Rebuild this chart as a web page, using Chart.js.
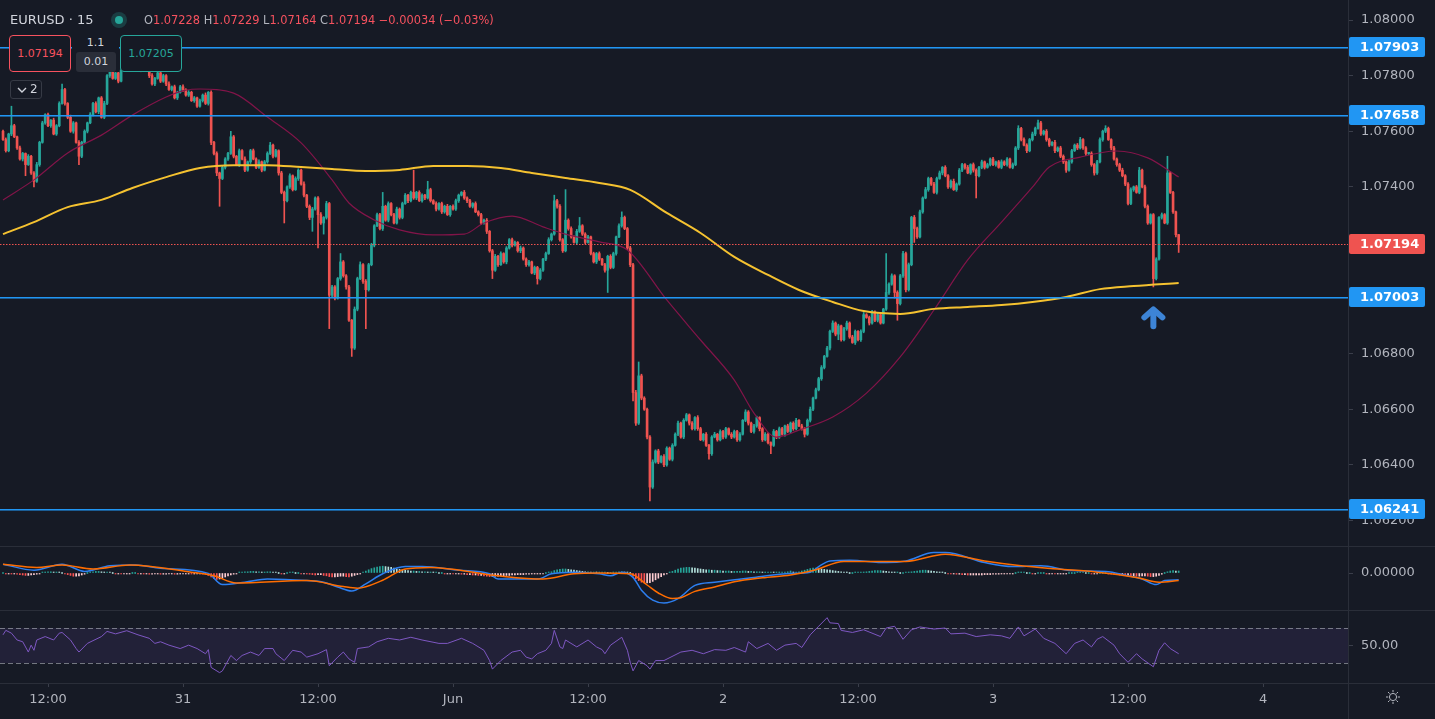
<!DOCTYPE html>
<html>
<head>
<meta charset="utf-8">
<title>EURUSD 15</title>
<script src="https://cdn.jsdelivr.net/npm/chart.js@4.4.1/dist/chart.umd.min.js"></script>
<style>
  html,body{margin:0;padding:0;background:#161a25;overflow:hidden}
  #wrap{position:relative;width:1435px;height:719px;background:#161a25;font-family:'DejaVu Sans',sans-serif}
  canvas{position:absolute;left:0;display:block}
  .sep{position:absolute;background:#2a2e39}
  .ov{position:absolute;box-sizing:border-box;white-space:nowrap}
  .lt{color:#b2b5be}
</style>
</head>
<body>
<div id="wrap">
  <canvas id="cPrice" width="1435" height="546" style="top:0"></canvas>
  <canvas id="cMacd" width="1435" height="63" style="top:547px"></canvas>
  <canvas id="cRsi" width="1435" height="108" style="top:611px"></canvas>
  <div class="sep" style="left:0;top:546px;width:1435px;height:1px"></div>
  <div class="sep" style="left:0;top:610px;width:1435px;height:1px"></div>
  <div class="sep" style="left:0;top:683px;width:1435px;height:1px"></div>
  <div class="sep" style="left:1348px;top:0;width:1px;height:719px"></div>

  <div class="ov" id="title" style="left:10px;top:11px;font-size:13px;color:#d1d4dc;line-height:18px"></div>
  <div class="ov" style="left:111px;top:12px;width:16px;height:16px;border-radius:50%;background:rgba(38,166,154,0.25)"></div>
  <div class="ov" style="left:115px;top:16px;width:8px;height:8px;border-radius:50%;background:#26a69a"></div>
  <div class="ov" id="ohlc" style="left:144px;top:11px;font-size:11.4px;line-height:18px;color:#f7525f"></div>
  <div class="ov" id="bidBox" style="left:9px;top:35px;width:62px;height:37px;border:1px solid #f7525f;border-radius:4px;background:#161a25;color:#f7525f;font-size:11px;line-height:35px;text-align:center"></div>
  <div class="ov" style="left:72px;top:35px;width:47px;height:37px;background:#161a25"></div>
  <div class="ov" id="qty" style="left:72px;top:35px;width:47px;text-align:center;font-size:11px;color:#d1d4dc;line-height:15px"></div>
  <div class="ov" id="spread" style="left:76px;top:52px;width:40px;height:20px;background:#2a2e39;border-radius:3px;text-align:center;font-size:11px;line-height:20px;color:#d1d4dc"></div>
  <div class="ov" id="askBox" style="left:120px;top:35px;width:62px;height:37px;border:1px solid #26a69a;border-radius:4px;background:#161a25;color:#26a69a;font-size:11px;line-height:35px;text-align:center"></div>
  <div class="ov" style="left:10px;top:80px;width:32px;height:19px;border:1px solid #363a45;border-radius:3px;background:#161a25;color:#d1d4dc;font-size:12px;line-height:17px">
    <svg width="10" height="8" style="position:absolute;left:6px;top:5px"><polyline points="1,2 5,6 9,2" fill="none" stroke="#d1d4dc" stroke-width="1.4"/></svg>
    <span style="position:absolute;left:19px;top:0">2</span>
  </div>
  <svg class="ov" width="16" height="16" style="left:1385px;top:689px">
    <circle cx="8" cy="8" r="3.6" fill="none" stroke="#b2b5be" stroke-width="1"/>
    <g stroke="#b2b5be" stroke-width="1">
      <line x1="8" y1="1" x2="8" y2="3.2"/><line x1="8" y1="12.8" x2="8" y2="15"/>
      <line x1="1" y1="8" x2="3.2" y2="8"/><line x1="12.8" y1="8" x2="15" y2="8"/>
      <line x1="3" y1="3" x2="4.6" y2="4.6"/><line x1="11.4" y1="11.4" x2="13" y2="13"/>
      <line x1="3" y1="13" x2="4.6" y2="11.4"/><line x1="11.4" y1="4.6" x2="13" y2="3"/>
    </g>
  </svg>
</div>
<script>
// ---------------- DATA ----------------
const symbolName = 'EURUSD';
const interval = '15';
const lastO = '1.07228', lastH = '1.07229', lastL = '1.07164', lastC = '1.07194';
const lastChange = '\u22120.00034 (\u22120.03%)';
const bidPrice = '1.07194', askPrice = '1.07205', orderQty = '1.1', spreadTxt = '0.01';

// 15-minute bars, index 0 = 30 May 08:00
const firstOpen = 1.0760;
const closes = [
1.0757,1.0753,1.0759,1.0762,1.0758,1.0754,1.0750,1.0752,1.0748,1.0751,
1.0745,1.0742,1.0748,1.0756,1.0763,1.0766,1.0762,1.0764,1.0759,1.0762,
1.0770,1.0775,1.0770,1.0765,1.0760,1.0763,1.0756,1.0751,1.0756,1.0760,
1.0763,1.0766,1.0770,1.0767,1.0772,1.0765,1.0770,1.0780,1.0782,1.0779,
1.0781,1.0778,1.0782,1.0784,1.0786,1.0783,1.0785,1.0787,1.0784,1.0782,
1.0785,1.0783,1.0780,1.0777,1.0779,1.0781,1.0778,1.0780,1.0777,1.0775,
1.0776,1.0772,1.0774,1.0776,1.0775,1.0773,1.0774,1.0771,1.0772,1.0769,
1.0771,1.0773,1.0770,1.0774,1.0756,1.0752,1.0745,1.0743,1.0747,1.0750,
1.0752,1.0758,1.0751,1.0748,1.0753,1.0750,1.0746,1.0749,1.0753,1.0750,
1.0747,1.0749,1.0746,1.0749,1.0752,1.0755,1.0751,1.0753,1.0745,1.0738,
1.0735,1.0740,1.0744,1.0739,1.0743,1.0746,1.0741,1.0737,1.0733,1.0729,
1.0732,1.0736,1.0730,1.0727,1.0729,1.0734,1.0701,1.0704,1.0700,1.0707,
1.0713,1.0708,1.0704,1.0692,1.0682,1.0696,1.0707,1.0712,1.0706,1.0703,
1.0712,1.0719,1.0726,1.0730,1.0725,1.0733,1.0728,1.0734,1.0730,1.0727,
1.0732,1.0729,1.0734,1.0737,1.0735,1.0738,1.0736,1.0738,1.0735,1.0737,
1.0736,1.0739,1.0735,1.0734,1.0732,1.0734,1.0731,1.0733,1.0730,1.0733,
1.0732,1.0735,1.0737,1.0738,1.0736,1.0735,1.0733,1.0734,1.0731,1.0730,
1.0727,1.0728,1.0724,1.0717,1.0710,1.0715,1.0712,1.0716,1.0713,1.0718,
1.0721,1.0719,1.0720,1.0717,1.0718,1.0714,1.0712,1.0713,1.0709,1.0711,
1.0707,1.0710,1.0714,1.0716,1.0721,1.0723,1.0735,1.0733,1.0721,1.0717,
1.0728,1.0725,1.0722,1.0720,1.0724,1.0726,1.0723,1.0720,1.0722,1.0716,
1.0713,1.0716,1.0714,1.0712,1.0710,1.0715,1.0711,1.0716,1.0722,1.0726,
1.0729,1.0725,1.0718,1.0712,1.0666,1.0655,1.0672,1.0664,1.0660,1.0650,
1.0632,1.0641,1.0645,1.0641,1.0643,1.0640,1.0646,1.0642,1.0647,1.0651,
1.0655,1.0650,1.0656,1.0658,1.0655,1.0653,1.0657,1.0653,1.0649,1.0651,
1.0647,1.0644,1.0650,1.0651,1.0649,1.0652,1.0650,1.0653,1.0651,1.0650,
1.0652,1.0649,1.0651,1.0656,1.0659,1.0655,1.0652,1.0654,1.0657,1.0653,
1.0649,1.0651,1.0648,1.0647,1.0652,1.0650,1.0653,1.0651,1.0654,1.0652,
1.0655,1.0653,1.0656,1.0654,1.0653,1.0651,1.0656,1.0660,1.0664,1.0667,
1.0671,1.0675,1.0679,1.0682,1.0688,1.0691,1.0687,1.0690,1.0685,1.0689,
1.0691,1.0686,1.0684,1.0688,1.0685,1.0688,1.0694,1.0693,1.0691,1.0695,
1.0692,1.0694,1.0691,1.0696,1.0702,1.0705,1.0708,1.0702,1.0698,1.0708,
1.0716,1.0703,1.0712,1.0729,1.0725,1.0722,1.0731,1.0736,1.0739,1.0743,
1.0741,1.0738,1.0743,1.0745,1.0747,1.0744,1.0740,1.0742,1.0739,1.0741,
1.0746,1.0748,1.0747,1.0745,1.0748,1.0746,1.0744,1.0747,1.0749,1.0747,
1.0748,1.0750,1.0748,1.0749,1.0747,1.0749,1.0748,1.0750,1.0747,1.0748,
1.0754,1.0761,1.0757,1.0755,1.0753,1.0757,1.0759,1.0761,1.0763,1.0759,
1.0760,1.0757,1.0755,1.0756,1.0753,1.0754,1.0751,1.0749,1.0746,1.0749,
1.0753,1.0755,1.0754,1.0757,1.0754,1.0752,1.0752,1.0748,1.0745,1.0749,
1.0757,1.0760,1.0761,1.0757,1.0754,1.0750,1.0748,1.0746,1.0744,1.0741,
1.0734,1.0739,1.0740,1.0738,1.0746,1.0740,1.0733,1.0727,1.0730,1.0707,
1.0714,1.0729,1.0730,1.0727,1.0745,1.0738,1.0731,1.07228,1.07194
];
// wick lengths beyond the body, in 0.00001
const wickUp = [
4,6,3,70,5,3,7,4,2,6, 3,5,8,4,6,3,5,2,7,4, 6,20,4,3,8,5,3,6,4,5, 3,7,4,6,3,5,8,4,6,3,
5,4,7,3,6,4,5,8,3,6, 4,5,3,7,4,6,3,5,4,8, 3,6,4,5,7,3,6,4,5,3, 6,4,8,3,5,4,6,3,7,5,
4,20,5,3,6,4,8,3,5,6, 4,7,3,5,6,10,4,5,3,6, 5,4,7,3,6,5,4,8,3,5, 6,4,5,7,3,8,4,6,5,4,
30,5,4,6,3,8,5,10,4,6, 5,7,4,6,5,50,4,6,3,5, 7,4,5,6,3,5,80,4,6,5, 3,30,5,4,6,3,5,4,7,3,
5,6,4,3,7,4,5,3,6,4, 5,4,6,3,5,7,4,6,3,5, 4,6,5,3,7,4,5,6,3,5, 4,6,3,5,7,4,20,5,6,4,
110,5,6,4,7,30,4,5,6,3, 5,4,6,3,5,4,6,5,3,7, 20,5,4,6,5,8,50,6,5,4, 5,8,4,6,3,7,5,4,6,5,
7,4,6,5,3,6,4,7,5,3, 6,4,5,7,3,6,4,5,3,6, 5,4,6,3,8,5,4,6,5,3, 4,6,5,3,7,4,6,5,3,6,
4,5,7,3,6,4,5,8,4,6, 5,7,4,6,5,8,4,6,3,5, 7,4,6,5,3,6,8,4,5,6, 4,6,5,3,140,5,7,4,6,5,
8,5,6,4,7,5,6,4,8,5, 4,6,5,7,3,6,4,5,8,4, 6,5,4,7,3,6,5,4,6,3, 5,4,6,3,5,7,4,5,3,6,
5,10,4,6,5,4,7,5,10,6, 4,6,5,3,7,4,6,5,3,6, 5,4,6,8,4,5,3,6,4,5, 6,4,10,5,3,6,4,5,7,4,
5,6,3,5,10,4,6,5,3,4, 5,3,6,4,60,5,4,3,1
];
const wickDn = [
3,5,4,6,3,5,4,7,40,3, 5,20,4,6,3,5,4,6,3,5, 4,3,6,5,4,7,3,30,5,4, 6,3,5,4,7,3,5,4,6,3,
4,6,3,5,4,7,3,5,4,6, 3,5,7,4,6,3,5,4,6,3, 5,4,6,3,7,4,5,3,6,4, 3,5,4,6,8,5,10,100,4,6,
5,3,6,4,7,3,5,4,6,3, 5,4,6,3,5,4,6,3,8,5, 80,4,6,5,3,7,4,6,5,8, 50,4,120,5,40,6,120,5,7,4,
6,5,8,4,30,5,6,4,7,140, 5,4,6,3,5,7,4,6,5,3, 4,6,5,3,7,4,5,6,3,5, 6,4,5,3,7,4,6,5,3,6,
4,5,6,3,5,7,4,6,3,5, 6,4,8,5,30,4,6,3,5,7, 4,6,3,5,7,4,6,5,3,6, 20,5,4,6,3,5,4,7,5,6,
4,6,5,3,7,4,5,6,3,5, 4,6,5,3,7,80,5,4,6,3, 5,4,6,7,30,8,5,6,4,7, 50,5,4,6,3,7,5,4,6,3,
5,4,6,3,7,4,5,6,3,5, 4,20,6,3,5,4,7,5,3,6, 4,6,5,3,5,7,4,6,5,8, 6,4,5,30,4,6,5,3,7,4,
5,6,4,3,5,10,4,6,5,3, 4,6,5,3,7,4,6,20,5,4, 6,5,3,7,4,6,5,3,7,4, 5,6,4,3,5,7,4,20,60,5,
6,8,5,4,50,6,4,5,3,6, 5,4,6,3,7,4,6,5,3,6, 4,5,6,3,5,7,80,4,5,6, 3,5,4,6,3,5,4,6,3,5,
4,6,5,3,7,4,5,6,3,5, 4,6,5,3,7,4,5,6,8,4, 5,3,6,4,5,7,4,6,8,5, 4,6,5,3,7,4,6,5,4,6,
5,4,6,3,5,4,6,5,4,30, 5,4,6,3,5,4,6,8,30
];

// EMA 200 (yellow) and MA (maroon), sampled at bar indices
const emaBars = [0,11,23,35,46,58,70,82,94,106,117,129,141,153,165,177,188,200,212,223,236,248,260,272,283,295,306,319,331,343,355,366,378,390,402,418];
const emaVals = [1.07230,1.07273,1.07327,1.07353,1.07396,1.07435,1.07468,1.07478,1.07478,1.07471,1.07464,1.07457,1.07461,1.07475,1.07475,1.07468,1.07450,1.07432,1.07414,1.07389,1.07306,1.07234,1.07148,1.07083,1.07029,1.06986,1.06953,1.06943,1.06961,1.06968,1.06975,1.06986,1.07004,1.07032,1.07043,1.07054];
const maBars = [0,11,23,35,46,58,65,70,82,94,106,117,123,132,141,153,164,171,181,192,200,212,222,236,248,260,267,275,283,295,307,319,331,343,355,366,372,383,396,407,418];
const maVals = [1.07353,1.07425,1.07522,1.07586,1.07658,1.07723,1.07748,1.07752,1.07737,1.07651,1.07558,1.07425,1.07342,1.07281,1.07245,1.07227,1.07230,1.07270,1.07295,1.07256,1.07230,1.07202,1.07173,1.06993,1.06849,1.06705,1.06586,1.06500,1.06525,1.06572,1.06658,1.06788,1.06957,1.07137,1.07273,1.07399,1.07471,1.07507,1.07529,1.07504,1.07435];

// MACD
const macdBars = [0,11,21,29,38,47,56,73,78,86,94,108,114,119,124,129,135,143,149,162,173,176,190,195,203,212,216,220,224,227,231,235,240,246,253,267,280,287,290,294,301,314,321,331,335,349,359,369,380,392,400,405,410,413,418];
const macdVals = [0.00022,0.00007,0.00022,0.00004,0.00018,0.0002,0.00012,-0.00001,-0.00029,-0.00023,-0.00015,-0.00019,-0.00023,-0.00035,-0.00045,-0.00027,-0.00002,0.00016,0.00016,0.00007,-0.00002,-0.00015,-0.00015,-0.00002,0.00002,-0.00002,-0.00007,0.00002,-0.00011,-0.00043,-0.00068,-0.00075,-0.00064,-0.00031,-0.00023,-0.00011,-0.00001,0.00002,0.00016,0.0003,0.00032,0.00026,0.0003,0.00051,0.00051,0.00026,0.00016,0.00018,0.00006,0.00004,-0.00007,-0.00015,-0.00029,-0.00019,-0.00017];
const signalBars = [0,12,21,32,45,67,75,83,108,121,126,135,143,152,176,192,203,212,223,229,233,238,241,246,253,260,270,280,288,299,321,335,349,362,375,389,403,411,418];
const signalVals = [0.00022,0.00014,0.0002,0.0001,0.0002,0.00002,-0.00007,-0.00025,-0.00019,-0.00034,-0.00038,-0.00018,0.0001,0.00014,-0.00007,-0.00015,-0.00002,0,-0.00002,-0.0003,-0.0005,-0.00064,-0.00062,-0.00046,-0.00035,-0.00022,-0.00012,-0.00005,0.00006,0.00029,0.00029,0.00047,0.0003,0.00018,0.0001,0.00002,-0.00011,-0.00023,-0.00019];
// histogram per bar, in 0.00001
const histUnits = [
0,-1,-1,-2,-2, -3,-4,-5,-6,-6,-5,-4,-3, -1,1,2,3,3,2,2,1,0, -2,-4,-6,-8,-8,-7,-5,-3,
0,2,3,4,4,3,2,2,1, 0,-1,-1,-2,-2,-1,-1,0,0,-1,-1,-2,-2,-3,-3,-2,-2,-3,
-3,-3,-2,-2,-3,-3,-2,-2,-1,-1,-2,-2,-1,-1,-2,-3, -6,-10,-14,-16,-15,-13,-10,-7,-5,-3,-1,
1,2,3,3,4,4,3,3,2,2,3,3,2,1,0,-1,-1,0,1,1,0,0,-1,-1,-2,
-3,-4,-5,-4,-4,-6,-7,-9,-10,-10,-9,-8,-8,-9,-10,-8,-6,-4,
-1,2,5,8,11,13,15,16,17,16,15,14,12,10,9,8,7,6,
5,5,4,4,3,3,2,2,1,1,0,0,-1,-1,-1,-2,-2,-2,
-3,-3,-4,-4,-5,-5,-6,-6,-7,-8,-9,-9,-8,-8,
-7,-7,-6,-6,-5,-5,-4,-4,-4,-3,-3,-2,-2,-2,-1,-1,0,1,3,
6,8,9,10,10,9,8,7,6,5,4,3,3,2,2,1,1,
1,1,0,0,1,2,3,3,2,1,0,
-8,-14,-19,-23,-25,-25,-24,-21,-17,-13,-9,-5,-2,1,
4,7,10,12,13,14,14,13,12,11,10,9,8,8,7,7,6,6,5,5,5,4,4,
4,4,5,5,4,4,3,3,3,2,2,2,2,1,1,1,1,2,3,5,
1,2,3,5,7,9,11,12,12,11,10,9,8,7,
6,5,4,3,2,1,0,0,1,1,2,2,3,4,5,6,6,6,5,4,3,2,1,1,0,0,1,
2,3,4,5,6,7,7,6,5,4,3,2,1,0,
-1,-2,-2,-3,-3,-4,-4,-5,-5,-5,-5,-5,-5,-4,-4,-4,-3,-3,-3,-2,-2,-2,-1,-1,0,1,1,1,0,0,-1,-1,0,0,
0,-1,-1,-1,-2,-2,-2,-1,-1,0,0,0,1,1,1,0,0,-1,-1,-1,0,0,0,
-1,-2,-3,-4,-5,-5,-6,-6,-7,-7,-8,-8,-7,-7,-8,-9,-9,-8,-6,
-3,0,3,5,6,5,5
];

// RSI samples
const rsiBars = [0,1,3,5,7,9,10,11,12,15, 18,20,21,24,26,27,30,35,37,40, 44,48,52,54,56,59,63,66,69,72,
73,74,77,78,81,83,85,88,91,93, 96,97,100,103,106,108,112,115,116,119, 121,123,125,126,130,133,137,141,145,149,
155,158,163,167,171,173,174,177,181,184, 186,188,190,193,195,196,198,199,200,204, 208,211,213,214,216,220,222,223,224,226,
229,230,232,235,241,245,249,253,257,260, 264,265,268,272,275,278,282,284,287,290, 293,294,297,298,302,306,312,314,317,320,
323,326,331,335,337,342,346,351,355,358, 361,363,367,370,374,378,381,384,387,389, 391,395,397,400,403,405,409,411,413,415,418];
const rsiVals = [62.2,67.3,64.1,56.3,54.3,42.5,50.4,44.5,56.3,60.2, 56.3,64.1,64.9,56.3,46.5,42.5,52.4,60.2,66.1,63.3, 66.9,62.2,58.2,52.4,54.3,50.4,46.5,50.4,46.5,40.6,
45.3,24.9,19.0,21.0,38.6,32.8,38.6,42.5,38.6,46.5, 46.5,40.6,32.8,44.5,42.5,36.7,40.6,45.3,26.9,36.7, 42.5,34.7,30.8,46.5,48.4,54.3,58.2,56.3,59.4,56.3,
52.4,52.4,58.2,52.4,44.5,32.8,23.0,32.8,42.5,44.5, 36.7,34.7,40.6,44.5,52.4,67.3,48.4,46.5,56.3,48.4, 56.3,48.4,45.3,40.6,50.4,59.4,44.5,30.8,21.0,32.8,
26.9,23.0,32.8,32.8,42.5,44.5,40.6,45.3,44.5,47.7, 42.5,54.3,46.5,52.4,44.5,50.4,52.4,47.7,62.2,72.0, 81.8,75.9,75.1,67.3,64.9,68.0,60.2,70.0,72.0,57.1,
68.0,71.2,68.8,70.0,63.3,64.1,60.2,62.2,61.0,58.2, 71.2,61.0,68.8,58.2,52.4,40.6,52.4,56.3,48.4,57.1, 60.2,50.4,40.6,30.8,40.6,34.7,25.7,44.5,53.1,46.5,40.6];
const rsiUpper = 70, rsiLower = 30;

// horizontal levels / current price / axis ticks
const levels = [1.07903, 1.07658, 1.07003, 1.06241];
const lastPrice = 1.07194;
const priceTicks = [1.062,1.064,1.066,1.068,1.070,1.072,1.074,1.076,1.078,1.080];
const timeTickBars = [16,64,112,160,208,256,304,352,400,448];
const timeTickLabels = ['12:00','31','12:00','Jun','12:00','2','12:00','3','12:00','4'];
const arrowBar = 409, arrowPrice = 1.0697;

// ---------------- STYLE ----------------
const FONT = 'DejaVu Sans';
const UP = '#26a69a', DOWN = '#ef5350', LEVEL = '#2196f3', AXIS_TXT = '#b2b5be';
const X_MIN = -1.07, X_MAX = 478.2;
const P_MIN = 1.061080, P_MAX = 1.080721;
const M_MIN = -0.000925, M_MAX = 0.00065;
const R_MIN = 7.14, R_MAX = 89.43;

// legend text
document.getElementById('title').textContent = symbolName + ' \u00b7 ' + interval;
document.getElementById('ohlc').innerHTML =
  '<span class="lt">O</span>' + lastO + ' <span class="lt">H</span>' + lastH +
  ' <span class="lt">L</span>' + lastL + ' <span class="lt">C</span>' + lastC + ' ' + lastChange;
document.getElementById('bidBox').textContent = bidPrice;
document.getElementById('askBox').textContent = askPrice;
document.getElementById('qty').textContent = orderQty;
document.getElementById('spread').textContent = spreadTxt;

// ---------------- BUILD ----------------
const opens = closes.map((c, i) => i === 0 ? firstOpen : closes[i - 1]);
const highs = closes.map((c, i) => Math.max(opens[i], c) + (wickUp[i] || 0) * 1e-5);
const lows = closes.map((c, i) => Math.min(opens[i], c) - (wickDn[i] || 0) * 1e-5);
const candleColors = closes.map((c, i) => c >= opens[i] ? UP : DOWN);
const bodyData = closes.map((c, i) => ({x: i, y: [opens[i], c]}));
const wickData = closes.map((c, i) => ({x: i, y: [lows[i], highs[i]]}));
const pts = (bs, vs) => bs.map((b, k) => ({x: b, y: vs[k]}));

const histData = histUnits.map((h, i) => ({x: i, y: h * 1e-5}));
const histColors = histUnits.map((h, i) => {
  const p = i > 0 ? histUnits[i - 1] : h;
  if (h >= 0) return h >= p ? '#26a69a' : '#b2dfdb';
  return h < p ? '#ff5252' : '#ffcdd2';
});

const common = {
  responsive: false, animation: false, devicePixelRatio: 1, events: [],
  layout: {padding: 0},
  plugins: {legend: {display: false}, tooltip: {enabled: false}}
};
const xHidden = () => ({type: 'linear', min: X_MIN, max: X_MAX, offset: false, display: false});
const yRight = (min, max, ticks, fmt) => ({
  position: 'right', min, max,
  afterFit(s) { s.width = 87; s.paddingTop = 0; s.paddingBottom = 0; },
  afterBuildTicks(s) { s.ticks = ticks.map(v => ({value: v})); },
  ticks: {color: AXIS_TXT, font: {family: FONT, size: 13}, padding: 8, autoSkip: false, callback: fmt},
  grid: {drawOnChartArea: false, drawTicks: true, tickLength: 5, color: '#3a3e4a'},
  border: {display: false}
});

function roundRect(ctx, x, y, w, h, r) {
  ctx.beginPath();
  ctx.moveTo(x + r, y); ctx.lineTo(x + w - r, y); ctx.quadraticCurveTo(x + w, y, x + w, y + r);
  ctx.lineTo(x + w, y + h - r); ctx.quadraticCurveTo(x + w, y + h, x + w - r, y + h);
  ctx.lineTo(x + r, y + h); ctx.quadraticCurveTo(x, y + h, x, y + h - r);
  ctx.lineTo(x, y + r); ctx.quadraticCurveTo(x, y, x + r, y); ctx.closePath();
}

const priceDecor = {
  id: 'priceDecor',
  afterDatasetsDraw(chart) {
    const {ctx, chartArea: a, scales: {x, y}} = chart;
    ctx.save();
    levels.forEach(v => {
      const py = Math.round(y.getPixelForValue(v));
      ctx.fillStyle = LEVEL;
      ctx.fillRect(a.left, py, a.right - a.left, 1);
      ctx.fillStyle = 'rgba(33,150,243,0.55)';
      ctx.fillRect(a.left, py + 1, a.right - a.left, 1);
    });
    const lp = Math.round(y.getPixelForValue(lastPrice));
    ctx.fillStyle = DOWN;
    for (let px = a.left; px < a.right; px += 3) ctx.fillRect(px, lp, 1.5, 1);
    // arrow mark
    const cx = x.getPixelForValue(arrowBar), ty = y.getPixelForValue(arrowPrice);
    ctx.strokeStyle = '#3d84d6'; ctx.lineWidth = 6; ctx.lineCap = 'round'; ctx.lineJoin = 'round';
    ctx.beginPath(); ctx.moveTo(cx - 9, ty + 11); ctx.lineTo(cx, ty + 3); ctx.lineTo(cx + 9, ty + 11); ctx.stroke();
    ctx.beginPath(); ctx.moveTo(cx, ty + 5); ctx.lineTo(cx, ty + 20); ctx.stroke();
    ctx.restore();
  },
  afterDraw(chart) {
    const {ctx, chartArea: a, scales: {y}} = chart;
    ctx.save();
    const box = (v, col) => {
      const py = Math.round(y.getPixelForValue(v));
      ctx.fillStyle = col; roundRect(ctx, a.right + 1, py - 10, 76, 20, 2); ctx.fill();
      ctx.fillStyle = '#ffffff'; ctx.font = 'bold 13px ' + FONT;
      ctx.textAlign = 'left'; ctx.textBaseline = 'middle';
      ctx.fillText(v.toFixed(5), a.right + 12, py + 1);
    };
    levels.forEach(v => box(v, LEVEL));
    box(lastPrice, DOWN);
    ctx.restore();
  }
};

new Chart(document.getElementById('cPrice'), {
  type: 'bar',
  data: {datasets: [
    {type: 'bar', data: wickData, backgroundColor: candleColors, barThickness: 1, grouped: false, order: 4},
    {type: 'bar', data: bodyData, backgroundColor: candleColors, barThickness: 2, minBarLength: 1, grouped: false, order: 3},
    {type: 'line', data: pts(maBars, maVals), borderColor: 'rgba(136,20,75,0.95)', borderWidth: 1.2, pointRadius: 0, cubicInterpolationMode: 'monotone', order: 2},
    {type: 'line', data: pts(emaBars, emaVals), borderColor: '#f5c230', borderWidth: 2, pointRadius: 0, cubicInterpolationMode: 'monotone', order: 1}
  ]},
  options: Object.assign({}, common, {
    scales: {x: xHidden(), y: yRight(P_MIN, P_MAX, priceTicks, v => v.toFixed(5))}
  }),
  plugins: [priceDecor]
});

new Chart(document.getElementById('cMacd'), {
  type: 'bar',
  data: {datasets: [
    {type: 'bar', data: histData, backgroundColor: histColors, barThickness: 1, minBarLength: 1, grouped: false, order: 3},
    {type: 'line', data: pts(macdBars, macdVals), borderColor: '#2d7ff0', borderWidth: 1.5, pointRadius: 0, cubicInterpolationMode: 'monotone', order: 2},
    {type: 'line', data: pts(signalBars, signalVals), borderColor: '#ff6d00', borderWidth: 1.5, pointRadius: 0, cubicInterpolationMode: 'monotone', order: 1}
  ]},
  options: Object.assign({}, common, {
    scales: {x: xHidden(), y: yRight(M_MIN, M_MAX, [0], v => v.toFixed(5))}
  })
});

const rsiBand = {
  id: 'rsiBand',
  beforeDatasetsDraw(chart) {
    const {ctx, chartArea: a, scales: {y}} = chart;
    const y1 = y.getPixelForValue(rsiUpper), y2 = y.getPixelForValue(rsiLower);
    ctx.save();
    ctx.fillStyle = 'rgba(126,87,194,0.12)';
    ctx.fillRect(a.left, y1, a.right - a.left, y2 - y1);
    ctx.strokeStyle = 'rgba(178,181,190,0.6)'; ctx.lineWidth = 1; ctx.setLineDash([5, 3]);
    [y1, y2].forEach(py => { const p = Math.round(py) + 0.5; ctx.beginPath(); ctx.moveTo(a.left, p); ctx.lineTo(a.right, p); ctx.stroke(); });
    ctx.restore();
  }
};

new Chart(document.getElementById('cRsi'), {
  type: 'line',
  data: {datasets: [
    {data: pts(rsiBars, rsiVals), borderColor: '#7e57c2', borderWidth: 1, pointRadius: 0, tension: 0}
  ]},
  options: Object.assign({}, common, {
    scales: {
      x: {
        type: 'linear', min: X_MIN, max: X_MAX, offset: false,
        afterFit(s) { s.height = 36; s.paddingLeft = 0; s.paddingRight = 0; },
        afterBuildTicks(s) { s.ticks = timeTickBars.map(v => ({value: v})); },
        ticks: {color: AXIS_TXT, font: {family: FONT, size: 13}, padding: 5, autoSkip: false, maxRotation: 0,
                callback: (v, i) => timeTickLabels[i]},
        grid: {drawOnChartArea: false, drawTicks: true, tickLength: 4, color: '#3a3e4a'},
        border: {display: false}
      },
      y: yRight(R_MIN, R_MAX, [50], v => v.toFixed(2))
    }
  }),
  plugins: [rsiBand]
});
</script>
</body>
</html>
